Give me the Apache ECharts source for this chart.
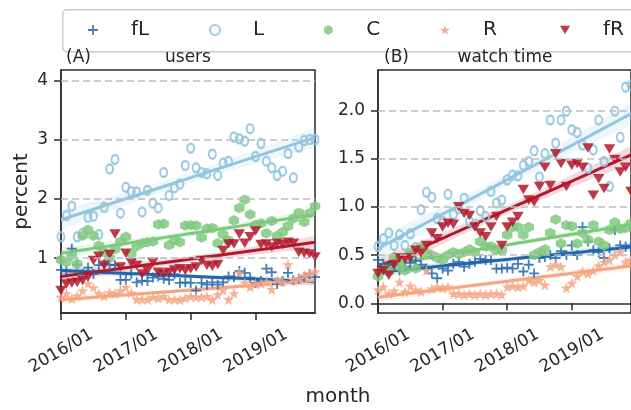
<!DOCTYPE html>
<html><head><meta charset="utf-8">
<script src="https://cdn.jsdelivr.net/npm/echarts@6/dist/echarts.min.js"></script>
<style>html,body{margin:0;padding:0;background:#fff}#c{width:631px;height:410px}</style>
</head><body><div id="c"></div>
<script>
const months = ['2016/01','2016/02','2016/03','2016/04','2016/05','2016/06','2016/07','2016/08','2016/09','2016/10','2016/11','2016/12',
'2017/01','2017/02','2017/03','2017/04','2017/05','2017/06','2017/07','2017/08','2017/09','2017/10','2017/11','2017/12',
'2018/01','2018/02','2018/03','2018/04','2018/05','2018/06','2018/07','2018/08','2018/09','2018/10','2018/11','2018/12',
'2019/01','2019/02','2019/03','2019/04','2019/05','2019/06','2019/07','2019/08','2019/09','2019/10','2019/11','2019/12'];
const seriesNames = ['fL','L','C','R','fR'];

// (A) users
const usersFL = [0.80,0.79,1.16,0.89,0.73,0.84,0.73,0.88,0.90,0.89,0.88,0.63,0.63,0.73,0.59,0.62,0.61,0.67,0.69,0.65,0.63,0.73,0.58,0.59,0.58,0.45,0.58,0.55,0.59,0.55,0.59,0.69,0.68,0.78,0.75,0.67,0.58,0.61,0.82,0.76,0.56,0.61,0.75,0.63,0.65,0.68,0.73,0.68];
const usersL = [1.36,1.72,1.88,1.36,1.42,1.69,1.71,1.40,1.86,2.51,2.67,1.76,2.20,2.13,2.12,1.78,2.15,1.93,1.85,2.45,2.06,2.19,2.25,2.57,2.86,2.53,2.45,2.43,2.76,2.40,2.61,2.64,3.05,3.02,2.98,3.19,2.72,2.94,2.64,2.53,2.40,2.47,2.77,2.36,2.88,2.99,3.01,3.01];
const usersC = [0.97,0.93,1.05,0.90,1.38,1.48,1.38,1.21,1.10,1.00,1.15,1.28,1.36,1.07,1.20,1.25,1.27,1.28,1.57,1.58,1.22,1.30,1.27,1.55,1.56,1.55,1.35,1.50,1.51,1.25,1.40,1.30,1.64,1.85,1.99,1.74,1.56,1.59,1.42,1.63,1.38,1.44,1.54,1.67,1.77,1.61,1.76,1.88];
const usersR = [0.34,0.40,0.31,0.36,0.45,0.57,0.50,0.40,0.36,0.42,0.40,0.45,0.51,0.41,0.30,0.30,0.30,0.34,0.32,0.35,0.30,0.30,0.29,0.32,0.35,0.34,0.34,0.35,0.30,0.38,0.46,0.30,0.40,0.75,0.58,0.51,0.56,0.57,0.60,0.47,0.63,0.60,0.89,0.63,0.65,0.71,0.74,0.77];
const usersFR = [0.45,0.56,0.58,0.59,0.62,0.68,0.96,1.03,0.88,1.06,1.41,0.85,1.08,0.92,0.88,0.73,0.79,0.93,0.76,0.73,0.76,0.80,0.82,0.79,0.82,0.85,0.96,0.88,0.86,0.89,1.13,1.24,1.24,1.41,1.25,1.36,1.46,1.23,1.24,1.19,1.25,1.23,1.27,1.25,1.10,1.08,1.07,1.02];

// (B) watch time
const watchFL = [0.45,0.41,0.37,0.40,0.34,0.38,0.42,0.44,0.40,0.36,0.31,0.26,0.36,0.34,0.41,0.43,0.38,0.41,0.43,0.46,0.45,0.45,0.36,0.36,0.37,0.36,0.41,0.33,0.40,0.31,0.47,0.48,0.50,0.47,0.54,0.50,0.60,0.50,0.79,0.64,0.55,0.53,0.47,0.57,0.76,0.60,0.59,0.60];
const watchL = [0.59,0.67,0.73,0.60,0.71,0.60,0.72,0.58,0.97,1.15,1.10,0.88,0.85,1.13,0.92,0.98,1.09,0.85,0.82,0.96,0.90,1.16,1.04,1.07,1.28,1.33,1.32,1.43,1.47,1.58,1.31,1.55,1.90,1.66,1.90,1.99,1.80,1.77,1.64,1.40,1.59,1.90,1.47,1.21,1.99,1.72,2.24,2.26];
const watchC = [0.28,0.35,0.33,0.48,0.38,0.34,0.52,0.36,0.58,0.52,0.50,0.47,0.45,0.50,0.53,0.51,0.53,0.56,0.53,0.64,0.59,0.59,0.55,0.55,0.71,0.79,0.79,0.71,0.79,0.50,0.53,0.56,0.73,0.87,0.62,0.81,0.80,0.62,0.73,0.66,0.81,0.64,0.60,0.76,0.84,0.77,0.78,0.83];
const watchR = [0.14,0.17,0.10,0.13,0.22,0.12,0.18,0.14,0.12,0.34,0.15,0.17,0.16,0.17,0.10,0.10,0.09,0.10,0.09,0.10,0.09,0.10,0.10,0.09,0.17,0.18,0.17,0.18,0.24,0.22,0.24,0.19,0.38,0.40,0.38,0.16,0.21,0.28,0.33,0.31,0.34,0.39,0.43,0.45,0.50,0.53,0.43,0.45];
const watchFR = [0.31,0.34,0.29,0.40,0.47,0.46,0.47,0.55,0.52,0.60,0.73,0.67,0.79,0.83,0.82,1.00,0.93,0.91,0.79,0.73,0.69,0.79,0.90,0.60,0.79,0.84,0.90,1.18,1.07,1.05,1.21,1.41,1.22,1.55,1.45,1.21,1.43,1.45,1.41,1.61,1.12,1.29,1.19,1.60,1.49,1.36,1.41,1.16];

const usersTicks = [1,2,3,4];
const usersGridLines = [1,2,3,4];
const watchTicks = [0,0.5,1,1.5,2];
const watchGridLines = [0.5,1,1.5,2];

const FONT = 'DejaVu Sans';
const TXT = '#262626';
const colors = {fL:'#2166ac', L:'#92c5de', C:'#7fc97f', R:'#f4a582', fR:'#b2182b'};
const symbols = {
  fL:'path://M4.1,0 H5.9 V4.1 H10 V5.9 H5.9 V10 H4.1 V5.9 H0 V4.1 H4.1 Z',
  L:'circle',
  C:'path://M5,0 L9.33,2.5 L9.33,7.5 L5,10 L0.67,7.5 L0.67,2.5 Z',
  R:'path://M5,0 L6.18,3.38 L9.76,3.45 L6.9,5.62 L7.94,9.05 L5,7 L2.06,9.05 L3.1,5.62 L0.24,3.45 L3.82,3.38 Z',
  fR:'path://M0,0 L10,0 L5,8.66 Z'
};
const sizes = {fL:10, L:[7,9], C:10.5, R:11, fR:[11.5,9.5]};

function fit(y){
  const n=y.length; let mx=0,my=0;
  for(let i=0;i<n;i++){mx+=i;my+=y[i];}
  mx/=n; my/=n;
  let sxx=0,sxy=0;
  for(let i=0;i<n;i++){sxx+=(i-mx)*(i-mx); sxy+=(i-mx)*(y[i]-my);}
  const b=sxy/sxx, a=my-b*mx;
  let sse=0; for(let i=0;i<n;i++){const r=y[i]-a-b*i; sse+=r*r;}
  const s=Math.sqrt(sse/(n-2));
  const line=[],lo=[],diff=[];
  for(let i=0;i<n;i++){
    const yh=a+b*i; const h=2.01*s*Math.sqrt(1/n+(i-mx)*(i-mx)/sxx);
    line.push(yh); lo.push(yh-h); diff.push(2*h);
  }
  return {line,lo,diff};
}

function panelSeries(g, dataMap, gridVals){
  const out=[];
  out.push({type:'line', xAxisIndex:g, yAxisIndex:g, data:[], z:1, silent:true,
    markLine:{silent:true, symbol:'none', animation:false, label:{show:false},
      lineStyle:{type:[7,4], color:'#bdbdbd', width:1.5}, data:gridVals.map(v=>({yAxis:v}))}});
  seriesNames.forEach(nm=>{
    const y=dataMap[nm]; const f=fit(y);
    const isL = nm==='L';
    out.push({name:nm, type:'scatter', xAxisIndex:g, yAxisIndex:g, data:y, symbol:symbols[nm], symbolSize:sizes[nm],
      itemStyle: isL ? {color:'rgba(0,0,0,0)', borderColor:colors[nm], borderWidth:2.2, opacity:0.9}
                     : {color:colors[nm], opacity:0.85}, z:2});
    out.push({name:nm+'_lo', type:'line', xAxisIndex:g, yAxisIndex:g, stack:'ci'+g+nm, stackStrategy:'all', data:f.lo,
      showSymbol:false, symbol:'none', lineStyle:{opacity:0}, silent:true, z:2});
    out.push({name:nm+'_band', type:'line', xAxisIndex:g, yAxisIndex:g, stack:'ci'+g+nm, stackStrategy:'all', data:f.diff,
      showSymbol:false, symbol:'none', lineStyle:{opacity:0}, areaStyle:{color:colors[nm], opacity:0.16}, silent:true, z:2});
    out.push({name:nm+'_fit', type:'line', xAxisIndex:g, yAxisIndex:g, data:f.line, showSymbol:false, symbol:'none',
      lineStyle:{color:colors[nm], width:3}, silent:true, z:2});
  });
  return out;
}

const axisLineStyle = {color:'#2b2b2b', width:1.5};
function xAxis(g){
  return {gridIndex:g, type:'category', data:months, boundaryGap:false,
    axisLine:{lineStyle:axisLineStyle}, axisTick:{interval:11, length:7, lineStyle:axisLineStyle},
    axisLabel:{interval:11, rotate:30, align:'center', verticalAlign:'middle', margin:38, fontSize:17, color:TXT, fontFamily:FONT},
    splitLine:{show:false}};
}
function yAxis(g, min, max, ticks, fmt, extra){
  return Object.assign({gridIndex:g, type:'value', min:min, max:max,
    axisLine:{show:true, lineStyle:axisLineStyle},
    axisTick:{show:true, length:7, lineStyle:axisLineStyle, customValues:ticks},
    axisLabel:{customValues:ticks, formatter:fmt, fontSize:17, color:TXT, fontFamily:FONT, margin:13},
    splitLine:{show:false}}, extra||{});
}

const legendLeft = [88,209,324,440,560];
const titleStyle = {fontSize:17, fontWeight:'normal', color:TXT, fontFamily:FONT};

const option = {
  animation:false,
  backgroundColor:'#fff',
  textStyle:{fontFamily:FONT},
  graphic:[{type:'rect', left:62, top:9, z:0, shape:{width:700, height:42, r:4}, style:{fill:'#fff', stroke:'#cccccc', lineWidth:1.5}}],
  legend: seriesNames.map((nm,i)=>({data:[nm], left:legendLeft[i], top:20, padding:0, itemWidth:10, itemHeight:10,
    selectedMode:false, z:5, textStyle:{fontSize:20, color:TXT, fontFamily:FONT, padding:[0,0,0,28]}})),
  title:[
    {text:'(A)', left:66, top:49, padding:0, textStyle:titleStyle},
    {text:'users', left:188, textAlign:'center', top:49, padding:0, textStyle:titleStyle},
    {text:'(B)', left:384, top:49, padding:0, textStyle:titleStyle},
    {text:'watch time', left:505, textAlign:'center', top:49, padding:0, textStyle:titleStyle},
    {text:'month', left:338, textAlign:'center', top:387, padding:0, textStyle:{fontSize:20, fontWeight:'normal', color:TXT, fontFamily:FONT}}
  ],
  grid:[
    {left:61, right:316, top:70, bottom:97, show:true, borderColor:'#2b2b2b', borderWidth:1.5, backgroundColor:'#fff'},
    {left:378, right:-2, top:70, bottom:97, show:true, borderColor:'#2b2b2b', borderWidth:1.5, backgroundColor:'#fff'}
  ],
  xAxis:[xAxis(0), xAxis(1)],
  yAxis:[
    yAxis(0, 0.07, 4.186, usersTicks, v=>String(v), {name:'percent', nameLocation:'middle', nameGap:29,
      nameTextStyle:{fontSize:20, color:TXT, fontFamily:FONT}}),
    yAxis(1, -0.10, 2.418, watchTicks, v=>v.toFixed(1))
  ],
  series: panelSeries(0, {fL:usersFL, L:usersL, C:usersC, R:usersR, fR:usersFR}, usersGridLines)
    .concat(panelSeries(1, {fL:watchFL, L:watchL, C:watchC, R:watchR, fR:watchFR}, watchGridLines))
};
echarts.init(document.getElementById('c')).setOption(option);
</script></body></html>
